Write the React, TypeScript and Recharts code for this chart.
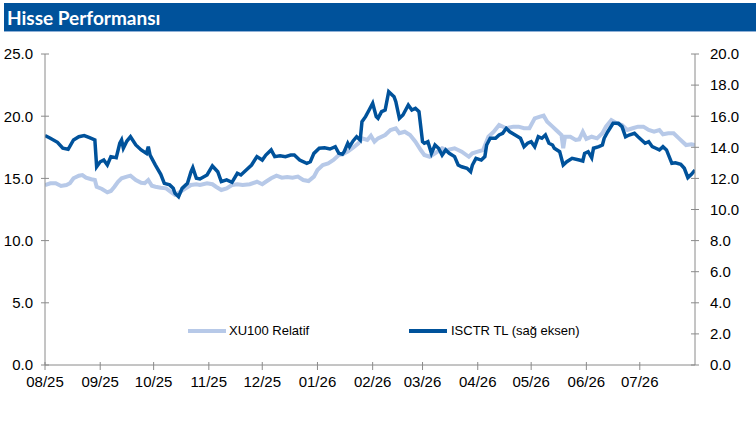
import { LineChart, Line, XAxis, YAxis } from "recharts";

const AXIS = "#8a8a8a";
const DARK = "#00529b";
const LIGHT = "#b7c9e8";
const FONT = "'Liberation Sans', Arial, sans-serif";

// x positions are day offsets from 1 Aug 2025
const monthTicks = [0, 31, 61, 92, 122, 153, 184, 212, 243, 273, 304, 334];
const monthLabels = ["08/25", "09/25", "10/25", "11/25", "12/25", "01/26", "02/26", "03/26", "04/26", "05/26", "06/26", "07/26"];
const leftTicks = [0, 5, 10, 15, 20, 25];
const rightTicks = [0, 2, 4, 6, 8, 10, 12, 14, 16, 18, 20];

// XU100 Relatif (left axis)
const xuDays = [
  0, 3, 6, 9, 12, 14, 16, 19, 21, 23, 26, 28, 29, 32, 35, 37, 39, 41, 43, 46, 48, 51, 54, 56, 58, 60,
  62, 65, 68, 71, 73, 76, 79, 82, 85, 87, 91, 94, 96, 99, 102, 105, 108, 111, 115, 119, 122, 124, 127,
  130, 133, 136, 139, 142, 145, 148, 151, 153, 156, 159, 162, 165, 167, 170, 173, 176, 178, 181, 183,
  185, 187, 191, 194, 197, 199, 202, 205, 208, 211, 213, 216, 219, 223, 226, 230, 234, 238, 240, 243,
  246, 249, 252, 255, 259, 263, 266, 269, 272, 275, 278, 280, 282, 285, 287, 290, 291, 292, 295, 298,
  300, 302, 304, 307, 310, 313, 315, 318, 321, 324, 327, 330, 333, 336, 339, 342, 345, 347, 350, 353,
  356, 358, 360, 363, 365,
];
const xuValues = [
  14.47, 14.61, 14.61, 14.39, 14.47, 14.61, 15.01, 15.22, 15.27, 15.06, 14.93, 14.87, 14.33, 14.15, 13.88,
  13.99, 14.33, 14.73, 15.01, 15.14, 15.22, 14.87, 14.65, 14.61, 14.87, 14.41, 14.33, 14.25, 14.2, 13.88,
  13.67, 13.93, 14.2, 14.47, 14.53, 14.47, 14.61, 14.53, 14.33, 14.07, 14.2, 14.47, 14.53, 14.47, 14.53,
  14.73, 14.53, 14.73, 15.01, 15.22, 15.06, 15.11, 15.06, 15.14, 14.87, 14.79, 15.14, 15.68, 16.08, 16.21,
  16.48, 16.88, 16.94, 17.15, 17.47, 17.82, 18.22, 18.09, 18.43, 17.95, 18.22, 18.49, 18.89, 19.03, 18.63,
  18.75, 18.49, 17.95, 17.28, 16.88, 16.74, 17.02, 17.42, 17.28, 17.42, 17.15, 16.74, 17.02, 17.15, 17.28,
  18.35, 18.75, 19.29, 19.03, 19.16, 19.16, 19.03, 19.03, 19.83, 19.96, 20.04, 19.56, 19.16, 18.89, 18.49,
  17.42, 18.35, 18.35, 18.09, 18.14, 18.75, 18.17, 18.35, 18.22, 18.63, 19.16, 19.69, 19.43, 19.29, 18.89,
  19.03, 19.16, 19.16, 18.89, 18.75, 18.89, 18.55, 18.63, 18.63, 18.22, 17.95, 17.68, 17.74, 17.68,
];

// ISCTR TL (right axis)
const isDays = [
  0, 3, 7, 10, 13, 16, 19, 22, 25, 28, 29, 31, 33, 35, 37, 40, 42, 43, 44, 46, 48, 51, 54, 57, 58, 59,
  62, 65, 67, 70, 72, 73, 75, 77, 80, 82, 83, 85, 87, 91, 94, 97, 99, 102, 105, 108, 110, 113, 116, 119,
  122, 124, 127, 129, 132, 135, 138, 140, 143, 147, 149, 151, 154, 157, 160, 163, 165, 167, 168, 170,
  171, 173, 175, 177, 178, 180, 182, 184, 186, 187, 189, 191, 193, 196, 197, 199, 201, 204, 206, 208,
  210, 212, 213, 215, 217, 219, 221, 223, 225, 227, 230, 232, 234, 237, 239, 240, 242, 245, 247, 248,
  250, 253, 255, 257, 259, 261, 264, 267, 269, 271, 273, 275, 277, 279, 281, 283, 285, 286, 289, 291,
  293, 296, 300, 302, 303, 305, 307, 308, 311, 313, 314, 316, 319, 322, 324, 326, 328, 331, 333, 335,
  337, 339, 341, 343, 345, 347, 349, 352, 354, 357, 359, 361, 363, 365,
];
const isValues = [
  14.75, 14.58, 14.32, 13.94, 13.87, 14.47, 14.68, 14.75, 14.62, 14.47, 12.75, 13.07, 13.18, 12.86, 13.4,
  13.33, 14.26, 14.47, 13.94, 14.4, 14.68, 14.15, 13.83, 13.61, 14.04, 13.5, 12.86, 12.26, 11.68, 11.58,
  11.36, 11.04, 10.82, 11.36, 11.68, 12.43, 12.69, 12.01, 11.96, 12.22, 12.8, 12.43, 11.79, 11.9, 11.75,
  12.33, 12.22, 12.54, 12.86, 13.4, 13.18, 13.5, 13.83, 13.4, 13.46, 13.4, 13.5, 13.5, 13.18, 12.97, 13.07,
  13.61, 13.94, 13.97, 13.89, 14.04, 13.61, 13.55, 13.72, 14.26, 14.04, 14.41, 14.68, 14.47, 15.65, 15.97,
  16.4, 16.83, 15.97, 15.86, 16.29, 16.4, 17.58, 17.25, 16.93, 15.86, 16.08, 16.72, 16.4, 16.51, 16.29,
  14.36, 14.26, 14.36, 13.61, 14.15, 13.94, 13.5, 13.83, 13.61, 13.4, 12.86, 12.75, 12.65, 12.43, 12.86,
  13.29, 13.18, 13.4, 14.15, 14.58, 14.58, 14.79, 14.9, 15.22, 15.0, 14.79, 14.58, 14.04, 14.26, 14.36,
  14.04, 14.68, 14.58, 14.79, 14.26, 14.15, 13.94, 13.72, 12.86, 13.07, 13.29, 13.18, 13.12, 13.61, 13.72,
  13.33, 13.94, 14.04, 14.15, 14.58, 15.0, 15.54, 15.54, 15.33, 14.68, 14.79, 14.9, 14.68, 14.47, 14.26,
  14.36, 14.04, 13.94, 13.83, 14.04, 13.83, 12.97, 13.01, 12.91, 12.65, 12.05, 12.26, 12.54,
];

const xuData = xuDays.map((d, i) => ({ d, xu: xuValues[i] }));
const isData = isDays.map((d, i) => ({ d, is: isValues[i] }));

const labelStyle = { fontFamily: FONT, fontSize: 15, fill: "#000" };

// ticks cross the axis line, like the original
const LeftTick = ({ x, y, payload }: any) => (
  <g>
    <line x1={x + 8} x2={x + 16} y1={y} y2={y} stroke={AXIS} />
    <text x={x} y={y} dy="0.355em" textAnchor="end" {...labelStyle}>
      {payload.value.toFixed(1)}
    </text>
  </g>
);

const RightTick = ({ x, y, payload }: any) => (
  <g>
    <line x1={x - 19} x2={x - 11} y1={y} y2={y} stroke={AXIS} />
    <text x={x} y={y} dy="0.355em" textAnchor="start" {...labelStyle}>
      {payload.value.toFixed(1)}
    </text>
  </g>
);

const BottomTick = ({ x, y, payload }: any) => {
  const idx = monthTicks.indexOf(payload.value);
  return (
    <g>
      <line x1={x} x2={x} y1={y - 14} y2={y - 6} stroke={AXIS} />
      <text x={x} y={y} dy="0.71em" textAnchor="middle" {...labelStyle}>
        {monthLabels[idx]}
      </text>
    </g>
  );
};

export default function App() {
  return (
    <div style={{ position: "absolute", left: 0, top: 0, width: 756, height: 426, background: "#fff" }}>
      <div
        style={{
          position: "absolute",
          left: 4,
          top: 3,
          width: 752,
          height: 29,
          background: DARK,
          borderBottom: "1px solid #8fb0d6",
          color: "#fff",
          fontFamily: "Lato, 'Open Sans', sans-serif",
          fontWeight: 700,
          fontSize: 19,
          lineHeight: "29px",
          paddingLeft: 3,
          boxSizing: "border-box",
        }}
      >
        Hisse Performansı
      </div>

      <LineChart width={756} height={426} data={xuData} margin={{ top: 54, right: 0, bottom: 31, left: 0 }}>
        <XAxis
          type="number"
          dataKey="d"
          domain={[0, 365]}
          ticks={monthTicks}
          height={30}
          tickSize={4}
          tickMargin={7}
          tickLine={false}
          stroke={AXIS}
          tick={(p: any) => <BottomTick {...p} />}
          allowDataOverflow
        />
        <YAxis
          yAxisId="left"
          orientation="left"
          width={45}
          domain={[0, 25]}
          ticks={leftTicks}
          tickSize={4}
          tickMargin={8}
          tickLine={false}
          stroke={AXIS}
          tick={(p: any) => <LeftTick {...p} />}
        />
        <YAxis
          yAxisId="right"
          orientation="right"
          width={61}
          domain={[0, 20]}
          ticks={rightTicks}
          tickSize={4}
          tickMargin={11}
          tickLine={false}
          stroke={AXIS}
          tick={(p: any) => <RightTick {...p} />}
        />
        <Line
          yAxisId="left"
          data={xuData}
          dataKey="xu"
          stroke={LIGHT}
          strokeWidth={4}
          dot={false}
          activeDot={false}
          isAnimationActive={false}
        />
        <Line
          yAxisId="right"
          data={isData}
          dataKey="is"
          stroke={DARK}
          strokeWidth={3.5}
          dot={false}
          activeDot={false}
          isAnimationActive={false}
        />
      </LineChart>

      {/* legend */}
      <div style={{ position: "absolute", left: 188, top: 329, width: 38, height: 4, background: LIGHT }} />
      <div style={{ position: "absolute", left: 229, top: 323, fontFamily: FONT, fontSize: 13, lineHeight: "16px", color: "#000" }}>
        XU100 Relatif
      </div>
      <div style={{ position: "absolute", left: 409, top: 329, width: 38, height: 4, background: DARK }} />
      <div style={{ position: "absolute", left: 451, top: 323, fontFamily: FONT, fontSize: 13, lineHeight: "16px", color: "#000" }}>
        ISCTR TL (sağ eksen)
      </div>
    </div>
  );
}
